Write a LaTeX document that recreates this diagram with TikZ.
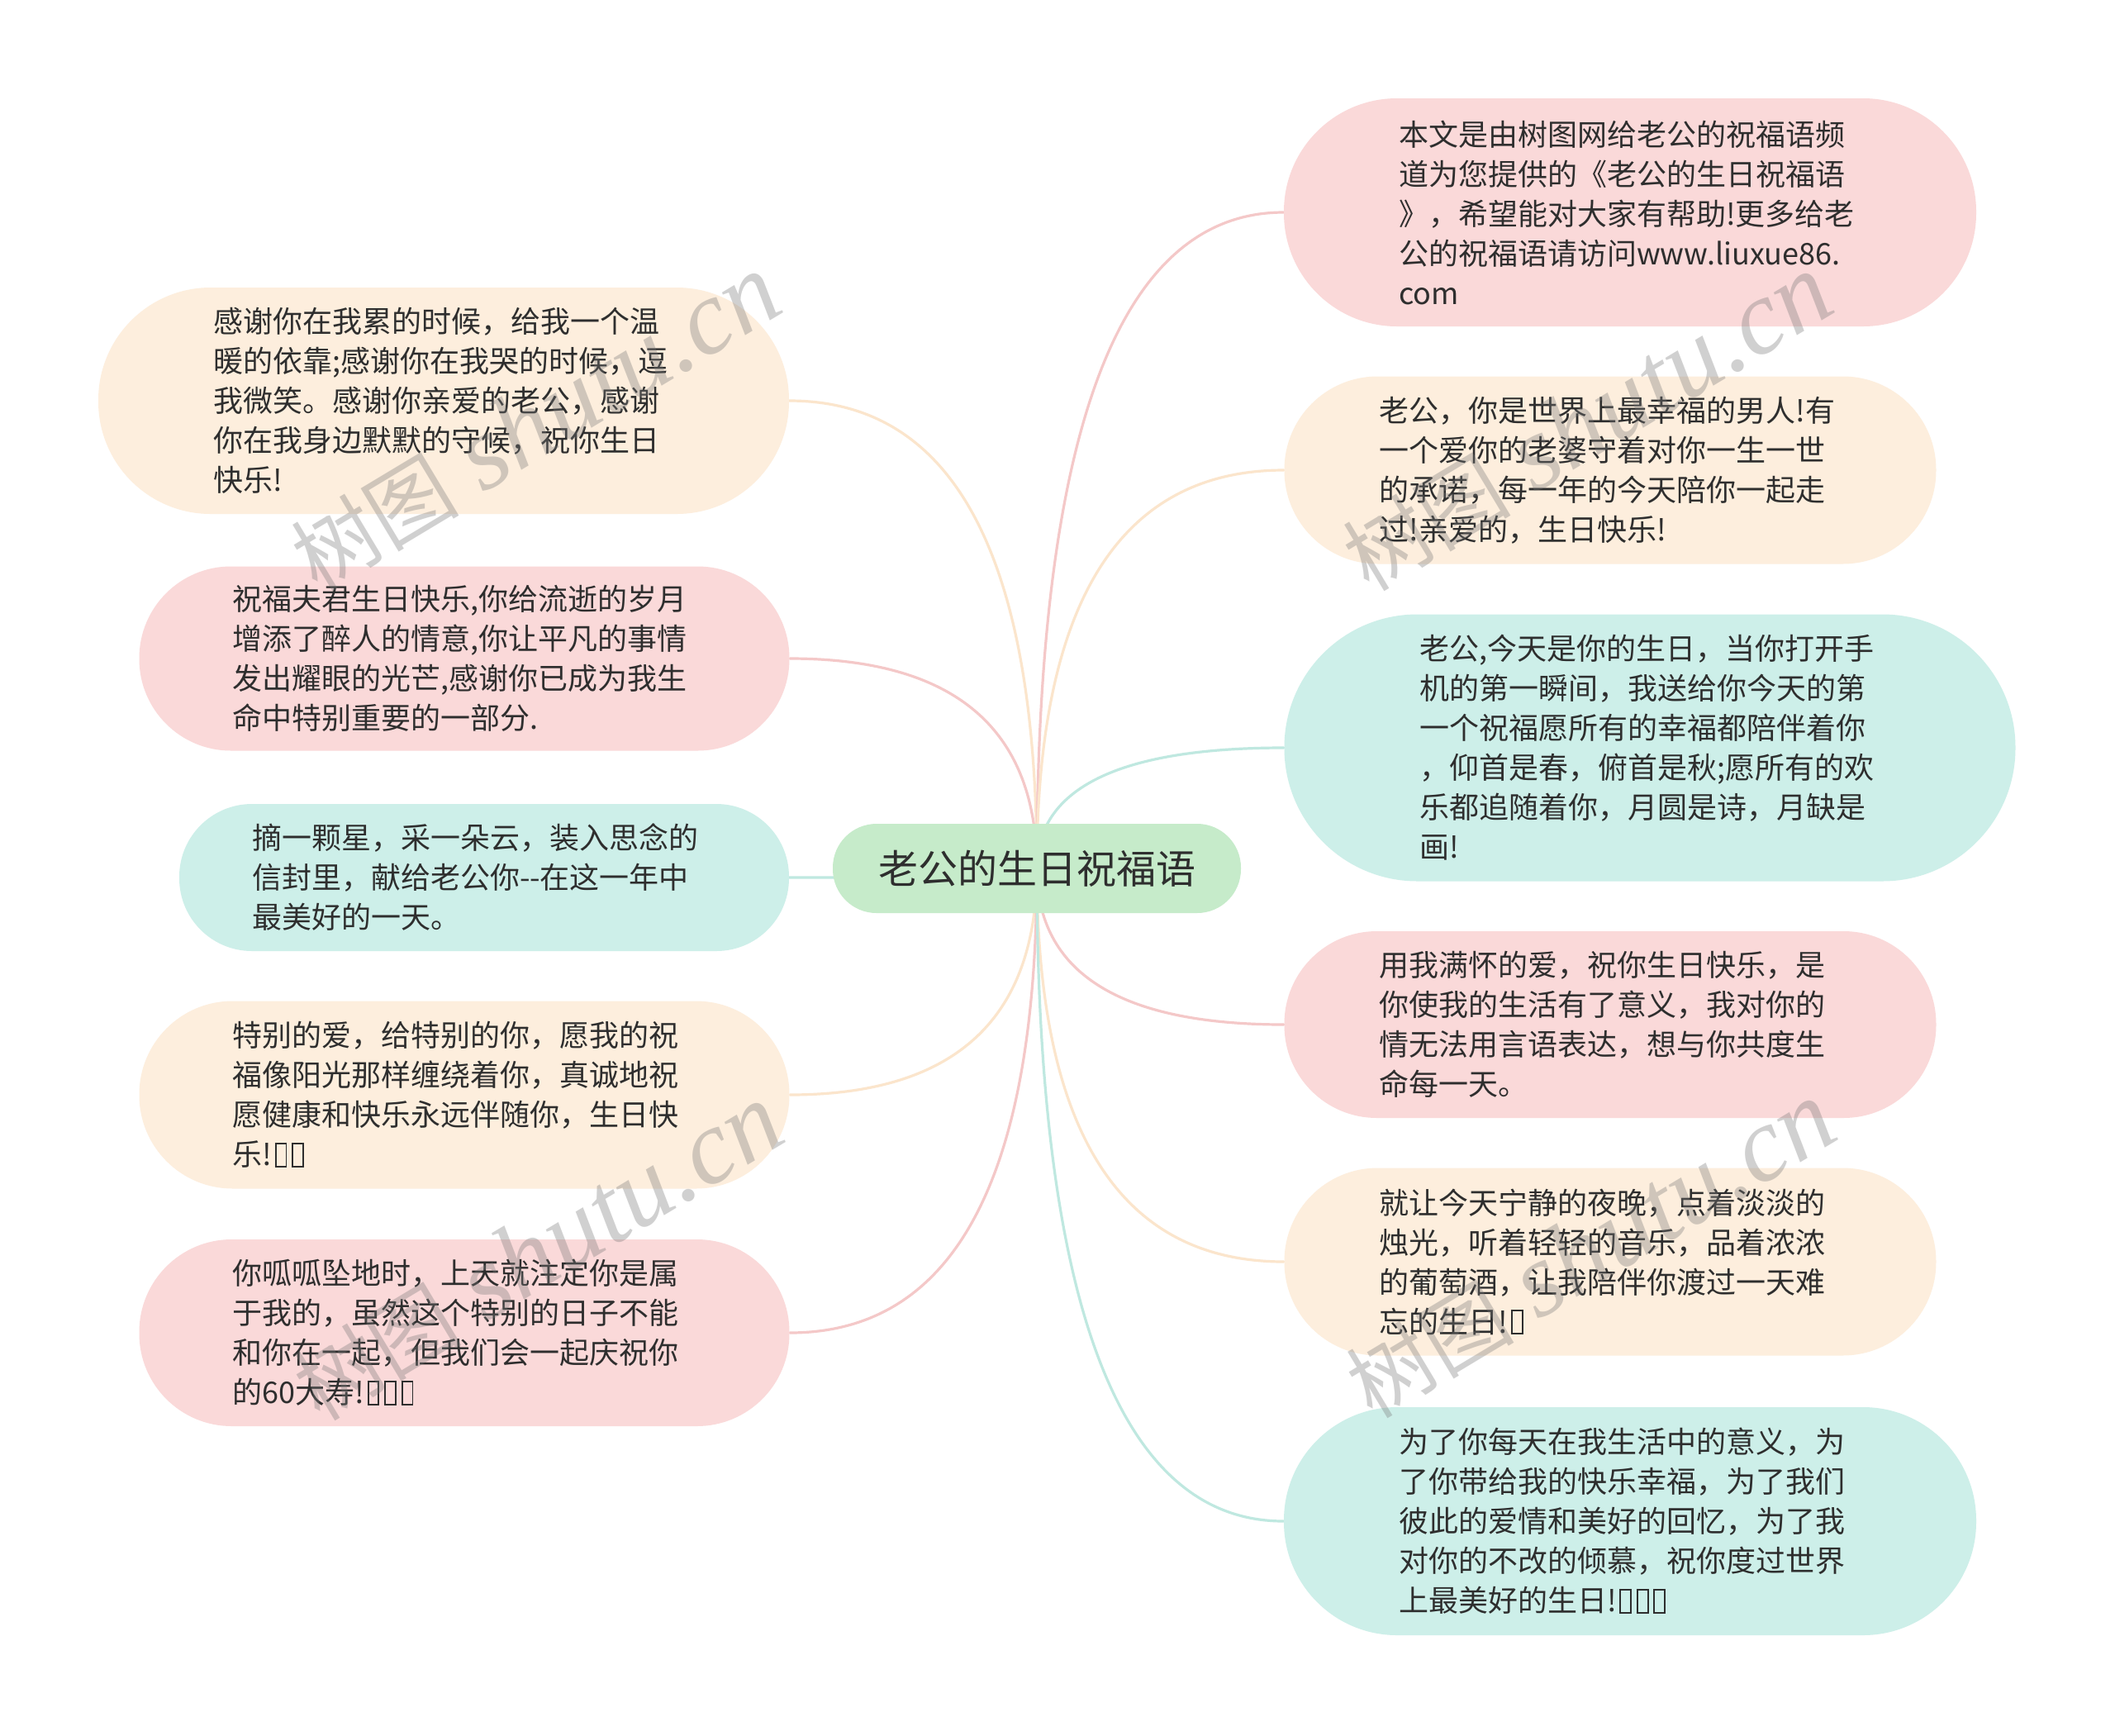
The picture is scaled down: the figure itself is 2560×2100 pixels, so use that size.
\documentclass[tikz,border=0pt]{standalone}
\usepackage{fontspec}
\setmainfont{Noto Sans CJK SC}
\newfontfamily\wmserif{Liberation Serif}
\usetikzlibrary{calc,backgrounds}
\definecolor{pinkfill}{HTML}{FAD9D9}
\definecolor{peachfill}{HTML}{FDEEDD}
\definecolor{mintfill}{HTML}{CDEFE9}
\definecolor{rootfill}{HTML}{C6EBCA}
\definecolor{pinkline}{HTML}{F4C8C8}
\definecolor{peachline}{HTML}{FBE5CC}
\definecolor{mintline}{HTML}{BFE8E0}
\definecolor{txt}{HTML}{2E2E2E}
\definecolor{wmgray}{HTML}{787878}
\newcommand\tofu{\kern0.1em{\fboxsep=0pt\fboxrule=0.055em\fbox{\rule{0pt}{0.72em}\hspace{0.3em}}}\kern0.06em}
\newcommand\linkto[2]{\draw[link,#2] (root.center) .. controls ($(root.center)!0.6667!(root.center |- #1)$) and ($(#1)!0.6667!(root.center |- #1)$) .. (#1);}
\newcommand\wmtext{{\fontsize{51}{51}\selectfont 树图}\hspace{15pt}{\wmserif\itshape\fontsize{64}{64}\selectfont shutu.cn}}
\begin{document}
\begin{tikzpicture}[x=0.5pt,y=-0.5pt,
  leaf/.style={inner sep=0pt, align=left, text=txt, font=\fontsize{18}{24}\selectfont},
  rootbox/.style={inner sep=0pt, fill=rootfill, text=txt, font=\fontsize{24}{28}\selectfont, minimum width=247pt, minimum height=54pt, rounded corners=26.5pt},
  link/.style={line width=1.6pt, line cap=round},
  wm/.style={text=wmgray, opacity=0.34, rotate=31, inner sep=0pt}]
\useasboundingbox (0,0) rectangle (2560,2100);

\node[rootbox] (root) at (1255,1051) {老公的生日祝福语};

\node[leaf, fill=peachfill, minimum width=418pt, minimum height=137pt, rounded corners=68pt, text width=279pt] (L1) at (537,485)
 {感谢你在我累的时候，给我一个温\\暖的依靠;感谢你在我哭的时候，逗\\我微笑。感谢你亲爱的老公，感谢\\你在我身边默默的守候，祝你生日\\快乐!};
\node[leaf, fill=pinkfill, minimum width=393.5pt, minimum height=111.5pt, rounded corners=55.5pt, text width=280.5pt] (L2) at (562,797)
 {祝福夫君生日快乐,你给流逝的岁月\\增添了醉人的情意,你让平凡的事情\\发出耀眼的光芒,感谢你已成为我生\\命中特别重要的一部分.};
\node[leaf, fill=mintfill, minimum width=369pt, minimum height=89pt, rounded corners=44pt, text width=281pt] (L3) at (586,1062)
 {摘一颗星，采一朵云，装入思念的\\信封里，献给老公你-{}-在这一年中\\最美好的一天。};
\node[leaf, fill=peachfill, minimum width=393.5pt, minimum height=113.5pt, rounded corners=56.5pt, text width=280.5pt] (L4) at (562,1325)
 {特别的爱，给特别的你，愿我的祝\\福像阳光那样缠绕着你，真诚地祝\\愿健康和快乐永远伴随你，生日快\\乐!\tofu\tofu};
\node[leaf, fill=pinkfill, minimum width=393.5pt, minimum height=113pt, rounded corners=56pt, text width=280.5pt] (L5) at (562,1613)
 {你呱呱坠地时，上天就注定你是属\\于我的，虽然这个特别的日子不能\\和你在一起，但我们会一起庆祝你\\的60大寿!\tofu\tofu\tofu};

\node[leaf, fill=pinkfill, minimum width=419pt, minimum height=138pt, rounded corners=68.5pt, text width=280pt] (R1) at (1973,257)
 {本文是由树图网给老公的祝福语频\\道为您提供的《老公的生日祝福语\\》，希望能对大家有帮助!更多给老\\公的祝福语请访问www.liuxue86.\\com};
\node[leaf, fill=peachfill, minimum width=394.5pt, minimum height=113.5pt, rounded corners=56.5pt, text width=279.5pt] (R2) at (1949,569)
 {老公，你是世界上最幸福的男人!有\\一个爱你的老婆守着对你一生一世\\的承诺，每一年的今天陪你一起走\\过!亲爱的，生日快乐!};
\node[leaf, fill=mintfill, minimum width=442.5pt, minimum height=161.5pt, rounded corners=80.5pt, text width=278.5pt] (R3) at (1997,905)
 {老公,今天是你的生日，当你打开手\\机的第一瞬间，我送给你今天的第\\一个祝福愿所有的幸福都陪伴着你\\，仰首是春，俯首是秋;愿所有的欢\\乐都追随着你，月圆是诗，月缺是\\画!};
\node[leaf, fill=pinkfill, minimum width=394.5pt, minimum height=113pt, rounded corners=56pt, text width=279.5pt] (R4) at (1949,1240)
 {用我满怀的爱，祝你生日快乐，是\\你使我的生活有了意义，我对你的\\情无法用言语表达，想与你共度生\\命每一天。};
\node[leaf, fill=peachfill, minimum width=394.5pt, minimum height=113.5pt, rounded corners=56.5pt, text width=279.5pt] (R5) at (1949,1527)
 {就让今天宁静的夜晚，点着淡淡的\\烛光，听着轻轻的音乐，品着浓浓\\的葡萄酒，让我陪伴你渡过一天难\\忘的生日!\tofu};
\node[leaf, fill=mintfill, minimum width=419pt, minimum height=138pt, rounded corners=68.5pt, text width=280pt] (R6) at (1973,1841)
 {为了你每天在我生活中的意义，为\\了你带给我的快乐幸福，为了我们\\彼此的爱情和美好的回忆，为了我\\对你的不改的倾慕，祝你度过世界\\上最美好的生日!\tofu\tofu\tofu};

\begin{scope}[on background layer]
\fill[white] (0,0) rectangle (2560,2100);
\linkto{L1.east}{peachline}
\linkto{L2.east}{pinkline}
\linkto{L3.east}{mintline}
\linkto{L4.east}{peachline}
\linkto{L5.east}{pinkline}
\linkto{R1.west}{pinkline}
\linkto{R2.west}{peachline}
\linkto{R3.west}{mintline}
\linkto{R4.west}{pinkline}
\linkto{R5.west}{peachline}
\linkto{R6.west}{mintline}
\end{scope}

\node[wm] (wm1) at (648,512) {\wmtext};
\node[wm] (wm2) at (1921,512) {\wmtext};
\node[wm] (wm3) at (651,1516) {\wmtext};
\node[wm] (wm4) at (1925,1513) {\wmtext};
\end{tikzpicture}
\end{document}
